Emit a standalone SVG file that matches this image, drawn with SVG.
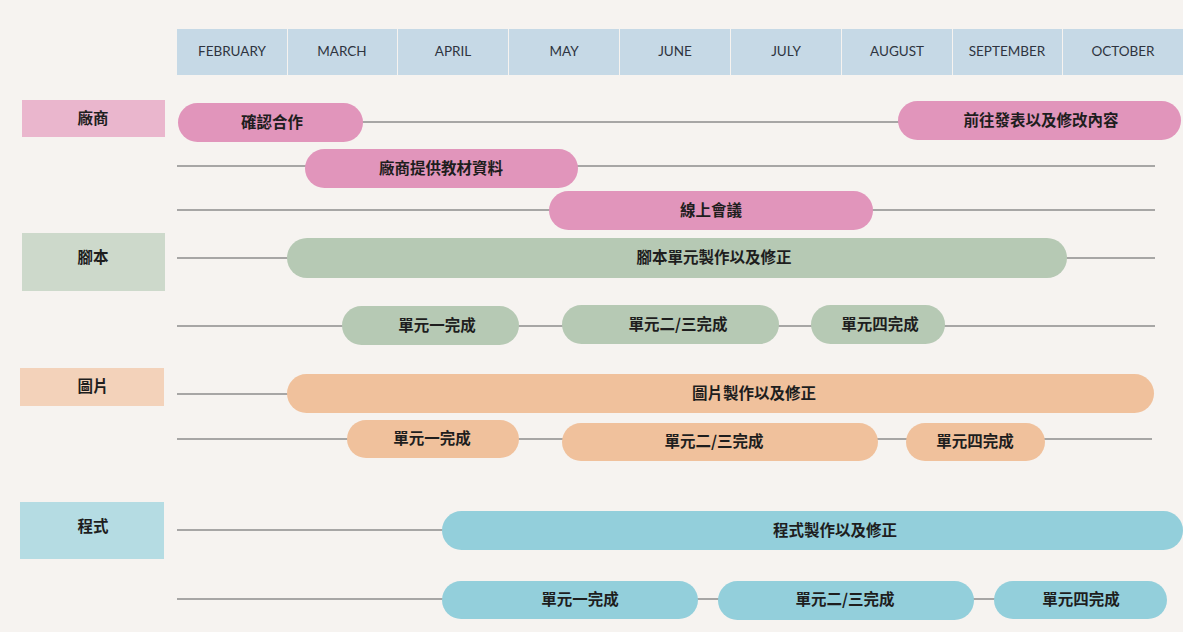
<svg xmlns="http://www.w3.org/2000/svg" width="1183" height="632" viewBox="0 0 1183 632">
<style>
.bg{fill:#f6f3f0}
.hd{fill:#c6d9e6}
.mt{font-family:Lato,"Open Sans","Liberation Sans",sans-serif;font-size:13.5px;fill:#2e3440;text-anchor:middle}
.tx{font-family:"Noto Sans CJK TC","Noto Sans CJK SC",sans-serif;font-weight:700;font-size:15.5px;fill:#1e1e1e;text-anchor:middle}
.ln{stroke:#8c8c8c;stroke-width:1.5;fill:none}
.pk{fill:#e195bb}.pkl{fill:#eab6cd}
.gr{fill:#b6c9b4}.grl{fill:#cdd9cb}
.or{fill:#f0c19c}.orl{fill:#f3d2ba}
.bl{fill:#93cfdb}.bll{fill:#b5dce3}
</style>
<rect class="bg" x="0" y="0" width="1183" height="632"/>
<g id="header">
<rect class="hd" x="177" y="29" width="110" height="46"/>
<rect class="hd" x="288" y="29" width="109" height="46"/>
<rect class="hd" x="398" y="29" width="110" height="46"/>
<rect class="hd" x="509" y="29" width="110" height="46"/>
<rect class="hd" x="620" y="29" width="110" height="46"/>
<rect class="hd" x="731" y="29" width="110" height="46"/>
<rect class="hd" x="842" y="29" width="110" height="46"/>
<rect class="hd" x="953" y="29" width="109" height="46"/>
<rect class="hd" x="1063" y="29" width="120" height="46"/>
<text class="mt" x="232" y="56">FEBRUARY</text>
<text class="mt" x="342" y="56">MARCH</text>
<text class="mt" x="453" y="56">APRIL</text>
<text class="mt" x="564" y="56">MAY</text>
<text class="mt" x="675" y="56">JUNE</text>
<text class="mt" x="786" y="56">JULY</text>
<text class="mt" x="897" y="56">AUGUST</text>
<text class="mt" x="1007" y="56">SEPTEMBER</text>
<text class="mt" x="1123" y="56">OCTOBER</text>
</g>
<g id="connectors">
<line class="ln" x1="340" y1="122" x2="910" y2="122"/>
<line class="ln" x1="177" y1="166" x2="1155" y2="166"/>
<line class="ln" x1="177" y1="210" x2="1155" y2="210"/>
<line class="ln" x1="177" y1="258" x2="1155" y2="258"/>
<line class="ln" x1="177" y1="326" x2="1155" y2="326"/>
<line class="ln" x1="177" y1="394" x2="300" y2="394"/>
<line class="ln" x1="177" y1="439" x2="1152" y2="439"/>
<line class="ln" x1="177" y1="530" x2="460" y2="530"/>
<line class="ln" x1="177" y1="599" x2="1000" y2="599"/>
</g>
<g id="cat-vendor"><rect class="pkl" x="22" y="100" width="143" height="37"/><text class="tx" x="93" y="124">廠商</text></g>
<g id="cat-script"><rect class="grl" x="22" y="233" width="143" height="58"/><text class="tx" x="93" y="263">腳本</text></g>
<g id="cat-image"><rect class="orl" x="20" y="368" width="144" height="38"/><text class="tx" x="93" y="392">圖片</text></g>
<g id="cat-program"><rect class="bll" x="20" y="502" width="144" height="57"/><text class="tx" x="93" y="532">程式</text></g>

<g id="v1"><rect class="pk" x="178" y="103" width="185" height="39" rx="19.5"/><text class="tx" x="272" y="128">確認合作</text></g>
<g id="v2"><rect class="pk" x="898" y="101" width="283" height="39" rx="19.5"/><text class="tx" x="1041" y="126">前往發表以及修改內容</text></g>
<g id="v3"><rect class="pk" x="305" y="149" width="273" height="39" rx="19.5"/><text class="tx" x="441" y="174">廠商提供教材資料</text></g>
<g id="v4"><rect class="pk" x="549" y="191" width="324" height="39" rx="19.5"/><text class="tx" x="711" y="216">線上會議</text></g>

<g id="s1"><rect class="gr" x="287" y="238" width="780" height="40" rx="20"/><text class="tx" x="714" y="263">腳本單元製作以及修正</text></g>
<g id="s2"><rect class="gr" x="342" y="306" width="177" height="39" rx="19.5"/><text class="tx" x="437" y="331">單元一完成</text></g>
<g id="s3"><rect class="gr" x="562" y="305" width="217" height="39" rx="19.5"/><text class="tx" x="678" y="330">單元二/三完成</text></g>
<g id="s4"><rect class="gr" x="811" y="305" width="134" height="39" rx="19.5"/><text class="tx" x="880" y="330">單元四完成</text></g>

<g id="i1"><rect class="or" x="287" y="374" width="867" height="39" rx="19.5"/><text class="tx" x="754" y="399">圖片製作以及修正</text></g>
<g id="i2"><rect class="or" x="347" y="420" width="172" height="38" rx="19"/><text class="tx" x="432" y="444">單元一完成</text></g>
<g id="i3"><rect class="or" x="562" y="423" width="316" height="38" rx="19"/><text class="tx" x="714" y="447">單元二/三完成</text></g>
<g id="i4"><rect class="or" x="906" y="423" width="139" height="38" rx="19"/><text class="tx" x="975" y="447">單元四完成</text></g>

<g id="p1"><rect class="bl" x="442" y="511" width="741" height="39" rx="19.5"/><text class="tx" x="835" y="536">程式製作以及修正</text></g>
<g id="p2"><rect class="bl" x="442" y="581" width="256" height="38" rx="19"/><text class="tx" x="580" y="605">單元一完成</text></g>
<g id="p3"><rect class="bl" x="718" y="581" width="256" height="39" rx="19.5"/><text class="tx" x="845" y="605">單元二/三完成</text></g>
<g id="p4"><rect class="bl" x="994" y="581" width="173" height="38" rx="19"/><text class="tx" x="1081" y="605">單元四完成</text></g>
</svg>
